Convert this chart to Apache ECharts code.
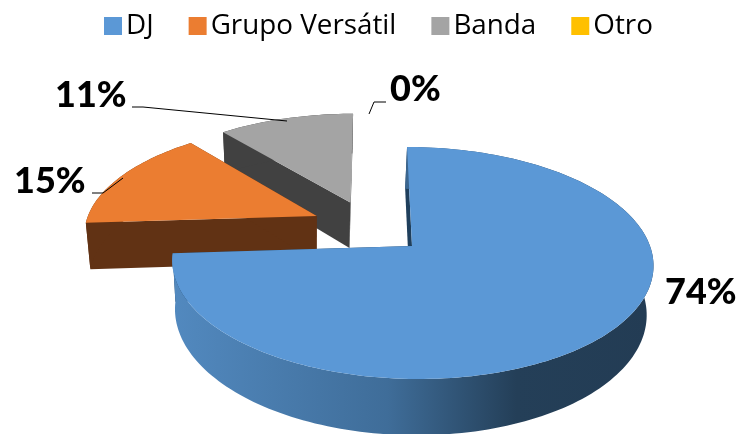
<!DOCTYPE html>
<html>
<head>
<meta charset="utf-8">
<style>html,body{margin:0;padding:0;background:#fff}#main{width:743px;height:434px}</style>
<script src="https://cdn.jsdelivr.net/npm/echarts@6/dist/echarts.min.js"></script>
</head>
<body>
<div id="main"></div>
<script>
var categories = ['DJ', 'Grupo Versátil', 'Banda', 'Otro'];
var values = [74, 15, 11, 0];
var colors = ['#5B98D6', '#EB7D31', '#A4A4A4', '#FFC000'];
var wallColors = ['#1F3F5C', '#613214', '#414141', '#7F6000'];

// how far each slice is pulled out, on the pie's own plane
var explodeX = [0, -0.41, -0.265, 0];
var explodeY = [0, 0.275, 0.405, 0];
// label position and leader line for each slice
var labelX = [665, 14, 55, 390];
var labelY = [292, 181, 95, 89];
var leaders = [
  null,
  [[92, 193], [103, 193], [123, 178]],
  [[132, 107], [143, 107], [287, 121]],
  [[386, 102], [374, 102], [369, 114]]
];

// pseudo 3D view of the pie
var cx = 412, cy = 246, bx = 238, by = 113.5, persp = 0.1466, shear = 0.05, depth = 48;

function project(px, py, bottom) {
  var d = 1 + persp * py;
  var x = bx * px / d;
  var y = -by * py / d;
  x += shear * y;
  if (bottom) {
    x = x * 0.98 - 2;
    y += depth / d;
  }
  return [cx + x, cy + y];
}

function arcPoints(idx, a0, a1, bottom) {
  var pts = [];
  var steps = Math.max(2, Math.ceil(Math.abs(a1 - a0) * 40));
  for (var i = 0; i <= steps; i++) {
    var a = a0 + (a1 - a0) * i / steps;
    pts.push(project(explodeX[idx] + Math.sin(a), explodeY[idx] + Math.cos(a), bottom));
  }
  return pts;
}

function sliceRenderer(idx) {
  return function (params, api) {
    var total = values.reduce(function (s, v) { return s + v; }, 0);
    var before = 0;
    for (var i = 0; i < idx; i++) before += values[i];
    var a0 = before / total * Math.PI * 2;
    var a1 = a0 + api.value(0) / total * Math.PI * 2;
    var children = [];

    if (api.value(0) > 0) {
      var tip = project(explodeX[idx], explodeY[idx], false);
      var tipB = project(explodeX[idx], explodeY[idx], true);
      var arcT = arcPoints(idx, a0, a1, false);
      var arcB = arcPoints(idx, a0, a1, true);
      var wallFill = wallColors[idx];
      if (idx === 0) {
        wallFill = new echarts.graphic.LinearGradient(173, 0, 650, 0, [
          { offset: 0, color: '#5289BF' },
          { offset: 0.45, color: '#3F6D99' },
          { offset: 0.72, color: '#243F58' },
          { offset: 1, color: '#233C54' }
        ], true);
      }
      // radial walls, then outer wall, then the top face over them
      children.push({ type: 'polygon', shape: { points: [tip, arcT[0], arcB[0], tipB] }, style: { fill: wallColors[idx] } });
      children.push({ type: 'polygon', shape: { points: [tip, arcT[arcT.length - 1], arcB[arcB.length - 1], tipB] }, style: { fill: wallColors[idx] } });
      children.push({ type: 'polygon', shape: { points: arcT.concat(arcB.slice().reverse()) }, style: { fill: wallFill } });
      children.push({ type: 'polygon', shape: { points: [tip].concat(arcT) }, style: { fill: colors[idx] } });
    }

    if (leaders[idx]) {
      children.push({ type: 'polyline', shape: { points: leaders[idx] }, style: { stroke: '#000', lineWidth: 1, fill: null } });
    }
    children.push({
      type: 'text',
      style: {
        x: labelX[idx],
        y: labelY[idx],
        text: api.value(0) + '%',
        fill: '#000',
        font: '900 36px Lato, sans-serif',
        textVerticalAlign: 'middle'
      }
    });
    return { type: 'group', children: children };
  };
}

var drawOrder = [3, 2, 1, 0];
var chart = echarts.init(document.getElementById('main'));
chart.setOption({
  animation: false,
  legend: {
    data: categories,
    left: 99,
    top: 7,
    icon: 'rect',
    itemWidth: 18,
    itemHeight: 18,
    itemGap: 35,
    textStyle: { fontFamily: 'Open Sans, sans-serif', fontSize: 27.8, color: '#000', padding: [0, 0, 0, -1] }
  },
  series: drawOrder.map(function (idx) {
    return {
      type: 'custom',
      name: categories[idx],
      coordinateSystem: 'none',
      itemStyle: { color: colors[idx] },
      data: [[values[idx]]],
      silent: true,
      renderItem: sliceRenderer(idx)
    };
  })
});
</script>
</body>
</html>
